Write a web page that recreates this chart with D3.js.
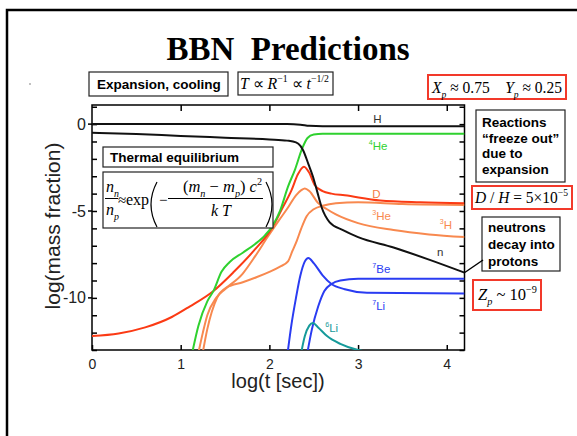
<!DOCTYPE html>
<html>
<head>
<meta charset="utf-8">
<script src="https://cdn.jsdelivr.net/npm/d3@7"></script>
<style>
  body { margin: 0; background: #fff; }
  text { white-space: pre; }
</style>
</head>
<body>
<div id="chart"></div>
<script>
// curves: [log t, log mass fraction]
const curveH   = [[0,0],[2.2,0],[2.35,-0.03],[2.45,-0.1],[2.6,-0.12],[4.2,-0.12]];
const curveN   = [[0,-0.5],[0.5,-0.57],[1.0,-0.68],[1.5,-0.78],[2.0,-0.88],[2.2,-0.95],[2.3,-1.05],[2.35,-1.25],[2.38,-1.5],[2.44,-2.3],[2.49,-3.0],[2.54,-3.9],[2.59,-4.8],[2.68,-5.65],[2.83,-6.1],[3.0,-6.5],[3.4,-7.1],[3.8,-7.8],[4.2,-8.55]];
const curveHe4 = [[1.12,-13.4],[1.2,-11.6],[1.3,-10.2],[1.37,-9.6],[1.46,-8.5],[1.55,-7.95],[1.7,-7.4],[1.84,-6.9],[1.95,-6.4],[2.03,-5.9],[2.12,-5.0],[2.21,-3.6],[2.29,-2.6],[2.37,-1.4],[2.43,-0.8],[2.5,-0.6],[2.6,-0.56],[4.2,-0.56]];
const curveD   = [[0,-12.2],[0.3,-12.05],[0.6,-11.7],[0.9,-11.1],[1.1,-10.5],[1.37,-9.6],[1.6,-8.5],[1.84,-7.2],[2.0,-6.2],[2.06,-5.7],[2.15,-4.8],[2.25,-3.8],[2.32,-2.9],[2.39,-2.45],[2.45,-2.8],[2.51,-3.5],[2.6,-3.85],[2.7,-4.0],[2.85,-4.1],[3.25,-4.4],[3.7,-4.5],[4.2,-4.55]];
const curveH3  = [[1.19,-13.4],[1.25,-12.0],[1.3,-11.0],[1.4,-10.0],[1.5,-9.5],[1.7,-8.6],[1.84,-7.6],[1.98,-6.5],[2.1,-5.6],[2.21,-4.8],[2.3,-4.1],[2.36,-3.8],[2.4,-3.7],[2.45,-3.85],[2.55,-4.55],[2.65,-4.9],[2.75,-5.2],[3.0,-5.7],[3.4,-6.1],[3.8,-6.35],[4.2,-6.5]];
const curveHe3 = [[1.24,-13.4],[1.3,-11.8],[1.41,-10.0],[1.52,-9.4],[1.7,-9.1],[1.86,-8.8],[2.0,-8.5],[2.12,-8.2],[2.21,-7.9],[2.26,-7.3],[2.31,-6.7],[2.36,-6.0],[2.42,-5.3],[2.5,-4.9],[2.6,-4.7],[2.75,-4.55],[3.0,-4.5],[3.5,-4.6],[4.2,-4.65]];
const curveLi7 = [[2.2,-13.4],[2.25,-11.5],[2.3,-10.0],[2.35,-8.7],[2.4,-7.9],[2.44,-7.7],[2.5,-8.0],[2.6,-8.7],[2.7,-9.2],[2.85,-9.5],[3.1,-9.7],[4.2,-9.75]];
const curveBe7 = [[2.42,-13.4],[2.48,-11.8],[2.55,-10.5],[2.62,-9.6],[2.7,-9.2],[2.8,-9.0],[3.0,-8.9],[4.2,-8.9]];
const curveLi6 = [[2.35,-13.4],[2.4,-12.2],[2.45,-11.6],[2.49,-11.45],[2.55,-11.7],[2.65,-12.2],[2.8,-12.65],[3.0,-13.0],[3.1,-13.1]];

const xTicks = [0, 1, 2, 3, 4];
const yTicks = d3.range(1, -14, -1);
const yLabels = [0, -5, -10];

const W = 577, H = 436;
const svg = d3.select("#chart").append("svg").attr("width", W).attr("height", H);

// page frame
svg.append("path").attr("d", "M7,436V10H577").attr("fill", "none").attr("stroke", "#000").attr("stroke-width", 2.5);
svg.append("circle").attr("cx", 30).attr("cy", 84).attr("r", 0.7).attr("fill", "#555");

svg.append("text").attr("x", 288).attr("y", 60).attr("text-anchor", "middle")
  .attr("font-family", "Liberation Serif, Times New Roman, serif").attr("font-weight", "bold")
  .attr("font-size", 33).text("BBN  Predictions");

let x = d3.scaleLinear().domain([0, 4.2]).range([92, 464.5]);
let y = d3.scaleLinear().domain([1.1, -13]).range([105, 350]);

// axes
svg.append("g").attr("transform", "translate(0,350)")
  .call(d3.axisBottom(x).tickValues(xTicks).tickSizeInner(-5).tickSizeOuter(0).tickPadding(9).tickFormat(d3.format("d")))
  .call(g => g.select(".domain").remove())
  .call(g => g.selectAll("text").attr("font-size", 14).attr("font-family", "Liberation Sans, Arial").attr("fill", "#222"));
svg.append("g").attr("transform", "translate(0,105)")
  .call(d3.axisTop(x).tickValues([1, 2, 3, 4]).tickSizeInner(-6).tickSizeOuter(0).tickFormat(""))
  .call(g => g.select(".domain").remove());
svg.append("g").attr("transform", "translate(92,0)")
  .call(d3.axisLeft(y).tickValues(yTicks).tickSizeInner(-5).tickSizeOuter(0).tickPadding(6)
    .tickFormat(d => yLabels.includes(d) ? String(d) : ""))
  .call(g => g.select(".domain").remove())
  .call(g => g.selectAll("text").attr("font-size", 16).attr("font-family", "Liberation Sans, Arial").attr("fill", "#222"));
svg.append("g").attr("transform", "translate(464.5,0)")
  .call(d3.axisRight(y).tickValues(yTicks).tickSizeInner(-5).tickSizeOuter(0).tickFormat(""))
  .call(g => g.select(".domain").remove());
svg.selectAll(".tick line").attr("stroke-width", 1.5);
// major ticks poke outside on the left
svg.append("g").selectAll("line").data(yLabels).join("line")
  .attr("x1", 88).attr("x2", 92).attr("y1", d => y(d)).attr("y2", d => y(d))
  .attr("stroke", "#000").attr("stroke-width", 1.5);

svg.append("rect").attr("x", 92).attr("y", 105).attr("width", 372.5).attr("height", 245)
  .attr("fill", "none").attr("stroke", "#000").attr("stroke-width", 1.5);

svg.append("text").attr("x", 278).attr("y", 388).attr("text-anchor", "middle")
  .attr("font-family", "Liberation Sans, Arial").attr("font-size", 20).attr("fill", "#222").text("log(t [sec])");
svg.append("text").attr("transform", "translate(60,226) rotate(-90)").attr("text-anchor", "middle")
  .attr("font-family", "Liberation Sans, Arial").attr("font-size", 21).attr("fill", "#222").text("log(mass fraction)");

// curves
svg.append("clipPath").attr("id", "clip").append("rect").attr("x", 92).attr("y", 105).attr("width", 372.5).attr("height", 245);
const line = d3.line().x(d => x(d[0])).y(d => y(d[1])).curve(d3.curveMonotoneX);
const series = [
  [curveH, "#111"], [curveHe3, "#f8894f"], [curveH3, "#f8894f"], [curveD, "#fb3a14"],
  [curveHe4, "#2fd12f"], [curveN, "#111"], [curveLi7, "#2a3cf2"], [curveBe7, "#2a3cf2"], [curveLi6, "#169a9a"]
];
const cg = svg.append("g").attr("clip-path", "url(#clip)");
series.forEach(([d, c]) => cg.append("path").attr("d", line(d)).attr("fill", "none").attr("stroke", c).attr("stroke-width", 2));

function rich(sel, px, py, parts, size, family, color, len) {
  const t = sel.append("text").attr("x", px).attr("y", py).attr("font-size", size)
    .attr("font-family", family).attr("fill", color || "#000");
  let cur = 0;
  parts.forEach(([s, k]) => {
    let off = 0, fs = size;
    if (k.includes("sup")) { off = -0.42 * size; fs = size * 0.62; }
    if (k.includes("sub")) { off = 0.3 * size; fs = size * 0.62; }
    const ts = t.append("tspan").attr("dy", off - cur).attr("font-size", fs).text(s);
    if (k.startsWith("i")) ts.attr("font-style", "italic");
    cur = off;
  });
  if (len) t.attr("textLength", len).attr("lengthAdjust", "spacingAndGlyphs");
  return t;
}

// curve labels
const sans = "Liberation Sans, Arial, sans-serif";
const curveLabels = [
  [3.17, 0.06, [["H", ""]], "#333"],
  [3.12, -1.49, [["4", "sup"], ["He", ""]], "#2fd12f"],
  [3.16, -4.25, [["D", ""]], "#f47a45"],
  [3.16, -5.52, [["3", "sup"], ["He", ""]], "#f8894f"],
  [3.92, -6.04, [["3", "sup"], ["H", ""]], "#f8894f"],
  [3.89, -7.59, [["n", ""]], "#333"],
  [3.16, -8.56, [["7", "sup"], ["Be", ""]], "#2a3cf2"],
  [3.16, -10.69, [["7", "sup"], ["Li", ""]], "#2a3cf2"],
  [2.63, -11.96, [["6", "sup"], ["Li", ""]], "#169a9a"]
];
curveLabels.forEach(([lx, ly, parts, c]) => rich(svg, x(lx), y(ly), parts, 11.5, sans, c));

// boxes
function box(x0, y0, w, h, color, sw) {
  svg.append("rect").attr("x", x0).attr("y", y0).attr("width", w).attr("height", h)
    .attr("fill", "#fff").attr("stroke", color || "#222").attr("stroke-width", sw || 1.2);
}
function bold(px, py, s) {
  svg.append("text").attr("x", px).attr("y", py).attr("font-family", sans).attr("font-weight", "bold")
    .attr("font-size", 13.5).text(s);
}
const serif = "Liberation Serif, Times New Roman, serif";

box(89, 72, 139, 24); bold(97, 89, "Expansion, cooling");
box(238, 72, 95, 23);
rich(svg, 240, 89, [["T", "i"], [" ∝ ", ""], ["R", "i"], ["−1", "sup"], [" ∝ ", ""], ["t", "i"], ["−1/2", "sup"]], 16, serif, null, 89);

box(428, 75, 138, 24, "#f2392a", 2);
rich(svg, 432, 93, [["X", "i"], ["p", "isub"], [" ≈ 0.75    ", ""], ["Y", "i"], ["p", "isub"], [" ≈ 0.25", ""]], 17, serif, null, 130);

box(103, 147, 170, 20); bold(110, 162, "Thermal equilibrium");
box(103, 172, 170, 56);
// n_n / n_p ≈ exp( -(m_n - m_p) c^2 / kT )
rich(svg, 106, 192, [["n", "i"], ["n", "isub"]], 16, serif);
rich(svg, 106, 215, [["n", "i"], ["p", "isub"]], 16, serif);
svg.append("line").attr("x1", 105).attr("x2", 118).attr("y1", 198.5).attr("y2", 198.5).attr("stroke", "#000");
rich(svg, 118, 205, [["≈", ""]], 15, serif);
rich(svg, 126, 205, [["exp", ""]], 16, serif);
svg.append("path").attr("d", "M157,182Q145,204.5 157,227").attr("fill", "none").attr("stroke", "#000").attr("stroke-width", 1.2);
svg.append("path").attr("d", "M266,182Q278,204.5 266,227").attr("fill", "none").attr("stroke", "#000").attr("stroke-width", 1.2);
rich(svg, 159, 205, [["−", ""]], 15, serif);
rich(svg, 183, 192, [["(", ""], ["m", "i"], ["n", "isub"], [" − ", ""], ["m", "i"], ["p", "isub"], [") ", ""], ["c", "i"], ["2", "sup"]], 16, serif, null, 79);
svg.append("line").attr("x1", 168).attr("x2", 263).attr("y1", 198.5).attr("y2", 198.5).attr("stroke", "#000");
rich(svg, 211, 216, [["k T", "i"]], 16, serif);

box(476, 110, 89, 72);
["Reactions", "“freeze out”", "due to", "expansion"].forEach((s, i) => bold(482, 127 + i * 15.7, s));

box(472, 186, 100, 23, "#f2392a", 2);
rich(svg, 475, 203, [["D", "i"], [" / ", ""], ["H", "i"], [" = 5×10", ""], ["−5", "sup"]], 16, serif, null, 93);

box(482, 217, 78, 54);
["neutrons", "decay into", "protons"].forEach((s, i) => bold(488, 232 + i * 16.8, s));
svg.append("line").attr("x1", 483).attr("y1", 260).attr("x2", 464).attr("y2", 273).attr("stroke", "#000").attr("stroke-width", 1.5);

box(473, 280, 68, 30, "#f2392a", 2);
rich(svg, 478, 300, [["Z", "i"], ["p", "isub"], [" ~ 10", ""], ["−9", "sup"]], 17, serif, null, 59);
</script>
</body>
</html>
